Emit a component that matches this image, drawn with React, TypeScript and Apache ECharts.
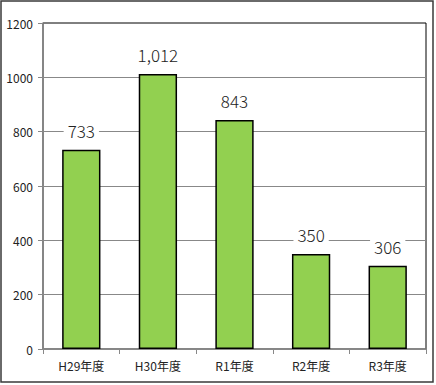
import React, { useEffect, useRef } from "react";
import * as echarts from "echarts";

const categories = ["H29年度", "H30年度", "R1年度", "R2年度", "R3年度"];
const values = [733, 1012, 843, 350, 306];
const yTicks = { min: 0, max: 1200, interval: 200 };

export default function App() {
  const ref = useRef<HTMLDivElement>(null);
  useEffect(() => {
    document.body.style.margin = "0";
    const chart = echarts.init(ref.current!, null, { renderer: "svg" });
    const font = "'Noto Sans CJK JP', sans-serif";
    chart.setOption({
      animation: false,
      backgroundColor: "#fff",
      textStyle: { fontFamily: font },
      graphic: [
        {
          type: "rect",
          shape: { x: 1, y: 1, width: 432, height: 381 },
          style: { fill: "none", stroke: "#3a3a3a", lineWidth: 1.5 },
          z: 100,
        },
      ],
      grid: {
        left: 43,
        right: 10,
        top: 23,
        bottom: 36,
        show: true,
        borderColor: "#000",
        borderWidth: 1,
      },
      xAxis: {
        type: "category",
        data: categories,
        axisLine: { lineStyle: { color: "#888", width: 1.5 } },
        axisTick: { show: true, length: 5, lineStyle: { color: "#888" } },
        axisLabel: { color: "#222", fontSize: 12, margin: 10, fontFamily: font },
      },
      yAxis: {
        type: "value",
        min: yTicks.min,
        max: yTicks.max,
        interval: yTicks.interval,
        axisLine: { show: true, lineStyle: { color: "#888", width: 1.5 } },
        axisTick: { show: true, length: 5, lineStyle: { color: "#888" } },
        axisLabel: {
          color: "#222",
          fontSize: 12,
          margin: 10,
          fontFamily: font,
          formatter: (v: number) => String(v),
        },
        splitLine: { showMaxLine: false, lineStyle: { color: "#888", width: 1 } },
      },
      series: [
        {
          type: "bar",
          data: values,
          barWidth: "50%",
          itemStyle: { color: "#92D050", borderColor: "#000", borderWidth: 1.5 },
          label: {
            show: true,
            position: "top",
            distance: 11,
            fontSize: 17,
            fontWeight: 300,
            color: "#222",
            backgroundColor: "#fff",
            padding: [0, 4],
            fontFamily: font,
            formatter: (p: any) => p.value.toLocaleString("en-US"),
          },
        },
      ],
    });
    return () => chart.dispose();
  }, []);
  return (
    <div
      ref={ref}
      style={{ position: "absolute", left: 0, top: 0, width: 436, height: 385 }}
    />
  );
}
